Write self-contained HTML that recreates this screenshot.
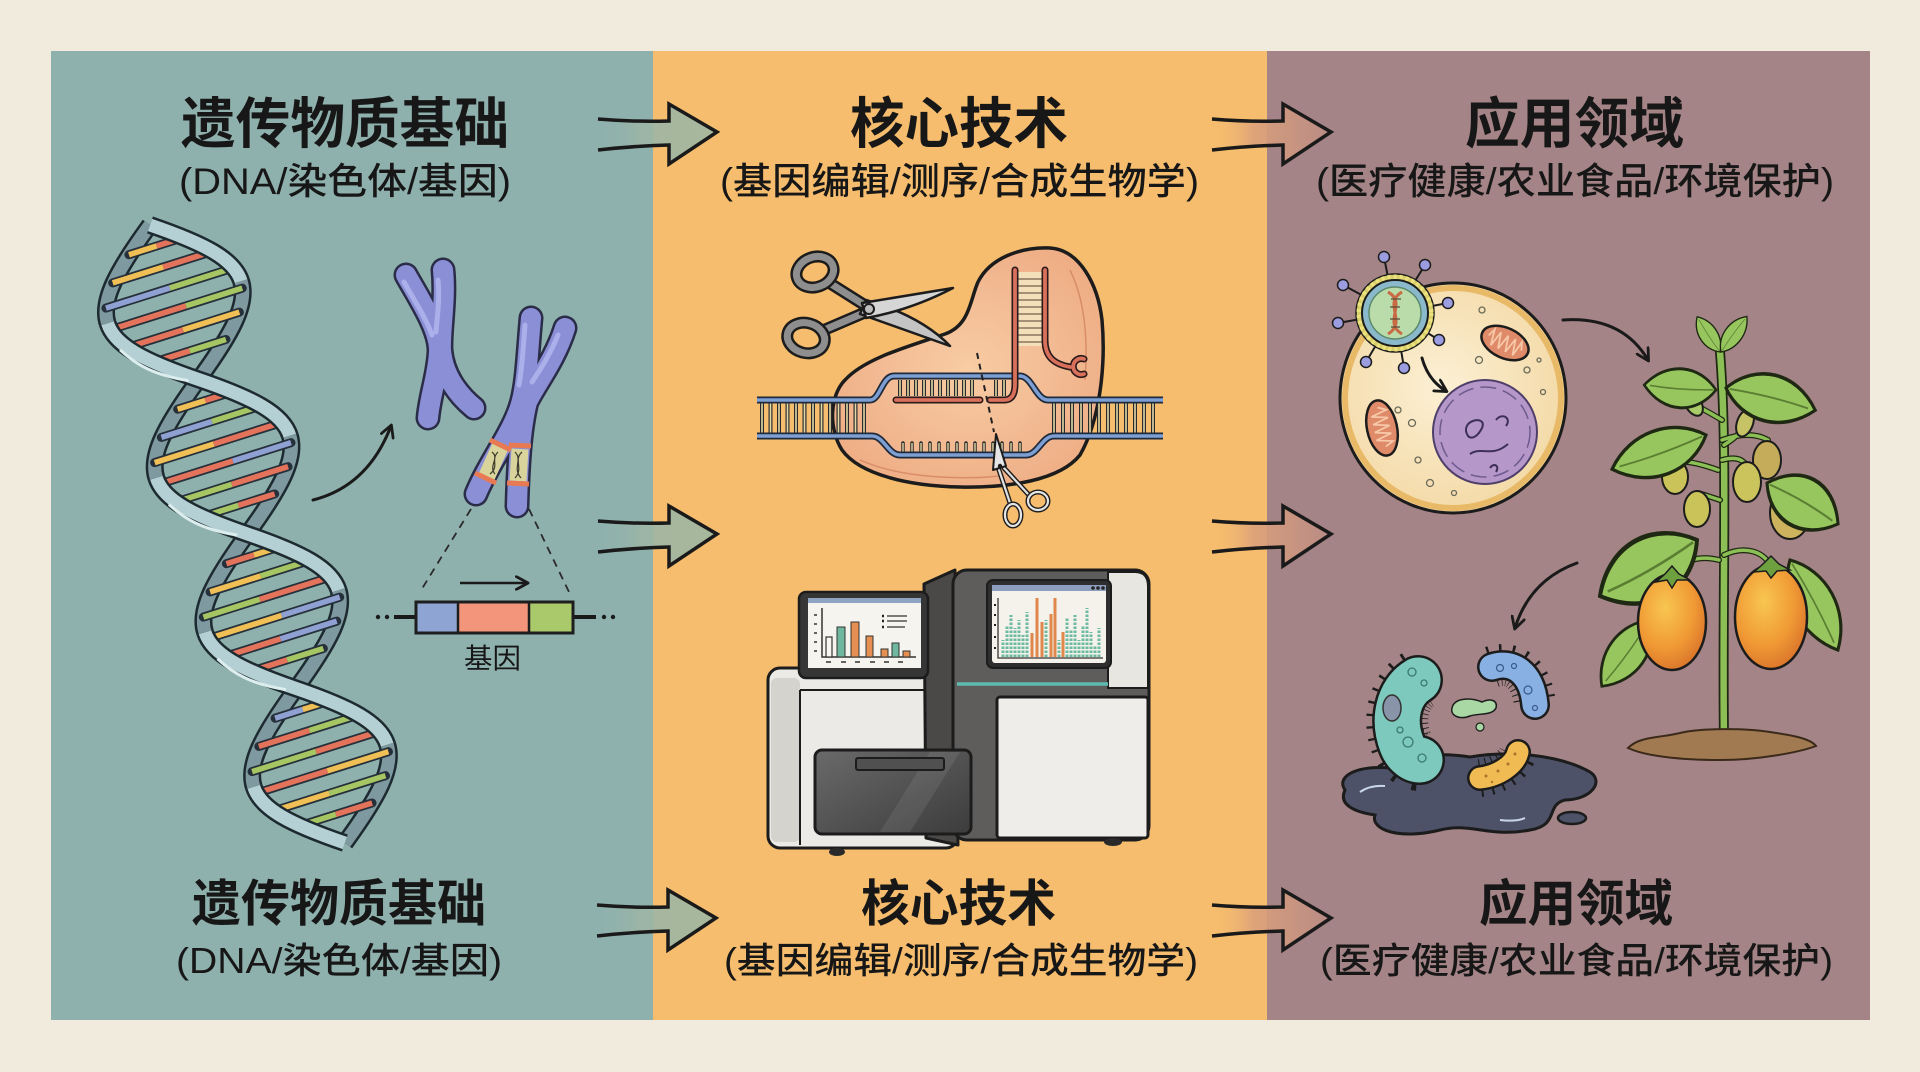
<!DOCTYPE html>
<html lang="zh"><head><meta charset="utf-8"><title>遗传物质基础 - 核心技术 - 应用领域</title>
<style>
html,body{margin:0;padding:0;background:#f1ebdd;width:1920px;height:1072px;overflow:hidden}
svg{display:block}
.t{font-family:"Liberation Sans","Noto Sans CJK SC",sans-serif;fill:#171717}
.rk{stroke:#25303a;stroke-width:9;stroke-linecap:round}
.rc{stroke-width:5.5}
.sbo,.sfo{fill:none;stroke:#1d2a30;stroke-width:18}
.sb{fill:none;stroke:#7f99a0;stroke-width:13}
.sf{fill:none;stroke:#b5d0d4;stroke-width:13}
.sh{fill:none;stroke:#dcedee;stroke-width:3}
.cho{fill:none;stroke:#2a2c48;stroke-width:25;stroke-linecap:round;stroke-linejoin:round}
.ch{fill:none;stroke:#8a8fd6;stroke-width:20;stroke-linecap:round;stroke-linejoin:round}
.chh{fill:none;stroke:#abafea;stroke-width:5;stroke-linecap:round}
.dk{fill:none;stroke:#1c1c1c;stroke-linecap:round;stroke-linejoin:round}
.lr{stroke:#2a2a2a;stroke-width:4}
.lr2{stroke:#e3d9a8;stroke-width:1.6}
.stm{fill:none;stroke:#1e2812;stroke-linecap:round}
.stm2{fill:none;stroke:#8cbf55;stroke-linecap:round}
</style></head><body>
<svg width="1920" height="1072" viewBox="0 0 1920 1072" xmlns="http://www.w3.org/2000/svg">
<defs>
<linearGradient id="ga1" x1="0" y1="0" x2="1" y2="0">
<stop offset="0" stop-color="#8fb1ad" stop-opacity="0"/>
<stop offset="0.35" stop-color="#9cb5a6" stop-opacity="0.9"/>
<stop offset="1" stop-color="#a8b89c"/>
</linearGradient>
<linearGradient id="ga2" x1="0" y1="0" x2="1" y2="0">
<stop offset="0" stop-color="#f6bd6e" stop-opacity="0"/>
<stop offset="0.35" stop-color="#dca07a" stop-opacity="0.9"/>
<stop offset="1" stop-color="#b88b86"/>
</linearGradient>
<radialGradient id="cellg" cx="0.45" cy="0.45" r="0.6"><stop offset="0" stop-color="#fcf0d4"/><stop offset="1" stop-color="#f3d8a4"/></radialGradient>
<radialGradient id="fruitg" cx="0.4" cy="0.35" r="0.7"><stop offset="0" stop-color="#f8c650"/><stop offset="0.6" stop-color="#f09a35"/><stop offset="1" stop-color="#d9722a"/></radialGradient>
<radialGradient id="blobg" cx="0.5" cy="0.5" r="0.6"><stop offset="0" stop-color="#f8cca4"/><stop offset="1" stop-color="#eeac84"/></radialGradient>
<linearGradient id="drawg" x1="0" y1="0" x2="1" y2="1"><stop offset="0" stop-color="#6a6a6a"/><stop offset="1" stop-color="#3c3c3c"/></linearGradient>
<marker id="ah" viewBox="0 0 14 14" refX="11" refY="7" markerWidth="15" markerHeight="15" markerUnits="userSpaceOnUse" orient="auto">
<path d="M1,1 L12,7 L1,13" fill="none" stroke="#1a1a1a" stroke-width="2.6" stroke-linecap="round" stroke-linejoin="round"/>
</marker>
<g id="leaf">
<path d="M0,0 C25,-26 70,-28 100,0 C70,26 25,24 0,0Z" fill="#97c65e" stroke="#1e2812" stroke-width="3"/>
<path d="M4,0 Q50,-3 92,0" fill="none" stroke="#5b7e33" stroke-width="1.6"/>
</g>
</defs>

<rect width="1920" height="1072" fill="#f1ebdd"/>
<rect x="51" y="51" width="602" height="969" fill="#8fb1ad"/>
<rect x="653" y="51" width="614" height="969" fill="#f6bd6e"/>
<rect x="1267" y="51" width="603" height="969" fill="#a48486"/>

<!-- titles -->
<text class="t" x="181" y="143" font-size="55" font-weight="700" textLength="328" lengthAdjust="spacingAndGlyphs">遗传物质基础</text>
<text class="t" x="179" y="194" font-size="37" font-weight="500" textLength="332" lengthAdjust="spacingAndGlyphs">(DNA/染色体/基因)</text>
<text class="t" x="850" y="143" font-size="55" font-weight="700" textLength="218" lengthAdjust="spacingAndGlyphs">核心技术</text>
<text class="t" x="720" y="194" font-size="37" font-weight="500" textLength="479" lengthAdjust="spacingAndGlyphs">(基因编辑/测序/合成生物学)</text>
<text class="t" x="1465" y="143" font-size="55" font-weight="700" textLength="219" lengthAdjust="spacingAndGlyphs">应用领域</text>
<text class="t" x="1316" y="194" font-size="37" font-weight="500" textLength="518" lengthAdjust="spacingAndGlyphs">(医疗健康/农业食品/环境保护)</text>

<text class="t" x="192" y="921" font-size="50" font-weight="700" textLength="294" lengthAdjust="spacingAndGlyphs">遗传物质基础</text>
<text class="t" x="176" y="973" font-size="36" font-weight="500" textLength="326" lengthAdjust="spacingAndGlyphs">(DNA/染色体/基因)</text>
<text class="t" x="861" y="921" font-size="50" font-weight="700" textLength="195" lengthAdjust="spacingAndGlyphs">核心技术</text>
<text class="t" x="724" y="973" font-size="36" font-weight="500" textLength="474" lengthAdjust="spacingAndGlyphs">(基因编辑/测序/合成生物学)</text>
<text class="t" x="1479" y="921" font-size="50" font-weight="700" textLength="194" lengthAdjust="spacingAndGlyphs">应用领域</text>
<text class="t" x="1320" y="973" font-size="36" font-weight="500" textLength="513" lengthAdjust="spacingAndGlyphs">(医疗健康/农业食品/环境保护)</text>

<!-- big arrows -->
<g transform="translate(598,132)"><path d="M0,-13 Q35,-10 71,-11 L71,-28 L119,0 L71,32 L71,13 Q35,14 0,18 Z" fill="url(#ga1)"/><path d="M0,-13 Q35,-10 71,-11 L71,-28 L119,0 L71,32 L71,13 Q35,14 0,18" fill="none" stroke="#1a1a1a" stroke-width="3.5" stroke-linejoin="miter"/></g>
<g transform="translate(598,534)"><path d="M0,-13 Q35,-10 71,-11 L71,-28 L119,0 L71,32 L71,13 Q35,14 0,18 Z" fill="url(#ga1)"/><path d="M0,-13 Q35,-10 71,-11 L71,-28 L119,0 L71,32 L71,13 Q35,14 0,18" fill="none" stroke="#1a1a1a" stroke-width="3.5"/></g>
<g transform="translate(597,918)"><path d="M0,-13 Q35,-10 71,-11 L71,-28 L119,0 L71,32 L71,13 Q35,14 0,18 Z" fill="url(#ga1)"/><path d="M0,-13 Q35,-10 71,-11 L71,-28 L119,0 L71,32 L71,13 Q35,14 0,18" fill="none" stroke="#1a1a1a" stroke-width="3.5"/></g>
<g transform="translate(1212,132)"><path d="M0,-13 Q35,-10 71,-11 L71,-28 L119,0 L71,32 L71,13 Q35,14 0,18 Z" fill="url(#ga2)"/><path d="M0,-13 Q35,-10 71,-11 L71,-28 L119,0 L71,32 L71,13 Q35,14 0,18" fill="none" stroke="#1a1a1a" stroke-width="3.5"/></g>
<g transform="translate(1212,534)"><path d="M0,-13 Q35,-10 71,-11 L71,-28 L119,0 L71,32 L71,13 Q35,14 0,18 Z" fill="url(#ga2)"/><path d="M0,-13 Q35,-10 71,-11 L71,-28 L119,0 L71,32 L71,13 Q35,14 0,18" fill="none" stroke="#1a1a1a" stroke-width="3.5"/></g>
<g transform="translate(1212,918)"><path d="M0,-13 Q35,-10 71,-11 L71,-28 L119,0 L71,32 L71,13 Q35,14 0,18 Z" fill="url(#ga2)"/><path d="M0,-13 Q35,-10 71,-11 L71,-28 L119,0 L71,32 L71,13 Q35,14 0,18" fill="none" stroke="#1a1a1a" stroke-width="3.5"/></g>

<!-- DNA helix -->
<g transform="translate(150,225) rotate(-17.5)">
<g>
<path class="sbo" d="M0,0 C-46.67,34.38 -70,57.69 -70,81"/>
<path class="sbo" d="M70,81 C70,104.31 46.67,127.62 0,162 C-46.67,196.38 -70,219.69 -70,243"/>
<path class="sbo" d="M70,243 C70,266.31 46.67,289.62 0,324 C-46.67,358.38 -70,381.69 -70,405"/>
<path class="sbo" d="M70,405 C70,428.31 46.67,451.62 0,486 C-46.67,520.38 -70,543.69 -70,567"/>
<path class="sbo" d="M70,567 C70,590.31 46.67,613.62 0,648"/>
<path class="sb" d="M0,0 C-46.67,34.38 -70,57.69 -70,81"/>
<path class="sb" d="M70,81 C70,104.31 46.67,127.62 0,162 C-46.67,196.38 -70,219.69 -70,243"/>
<path class="sb" d="M70,243 C70,266.31 46.67,289.62 0,324 C-46.67,358.38 -70,381.69 -70,405"/>
<path class="sb" d="M70,405 C70,428.31 46.67,451.62 0,486 C-46.67,520.38 -70,543.69 -70,567"/>
<path class="sb" d="M70,567 C70,590.31 46.67,613.62 0,648"/>
</g>
<g>
<line x1="-29" y1="22" x2="29" y2="22" class="rk"/><line x1="-29" y1="22" x2="0" y2="22" stroke="#f0bf55" class="rc"/><line x1="0" y1="22" x2="29" y2="22" stroke="#e4735c" class="rc"/>
<line x1="-53" y1="44" x2="53" y2="44" class="rk"/><line x1="-53" y1="44" x2="0" y2="44" stroke="#f0bf55" class="rc"/><line x1="0" y1="44" x2="53" y2="44" stroke="#e4735c" class="rc"/>
<line x1="-67" y1="66" x2="67" y2="66" class="rk"/><line x1="-67" y1="66" x2="0" y2="66" stroke="#8fa0d3" class="rc"/><line x1="0" y1="66" x2="67" y2="66" stroke="#a6c563" class="rc"/>
<line x1="-69" y1="88" x2="69" y2="88" class="rk"/><line x1="-69" y1="88" x2="10" y2="88" stroke="#e4735c" class="rc"/><line x1="10" y1="88" x2="69" y2="88" stroke="#a6c563" class="rc"/>
<line x1="-59" y1="110" x2="59" y2="110" class="rk"/><line x1="-59" y1="110" x2="0" y2="110" stroke="#e4735c" class="rc"/><line x1="0" y1="110" x2="59" y2="110" stroke="#f0bf55" class="rc"/>
<line x1="-38" y1="132" x2="38" y2="132" class="rk"/><line x1="-38" y1="132" x2="0" y2="132" stroke="#e4735c" class="rc"/><line x1="0" y1="132" x2="38" y2="132" stroke="#a6c563" class="rc"/>
<line x1="-29" y1="184" x2="29" y2="184" class="rk"/><line x1="-29" y1="184" x2="0" y2="184" stroke="#f0bf55" class="rc"/><line x1="0" y1="184" x2="29" y2="184" stroke="#e4735c" class="rc"/>
<line x1="-53" y1="206" x2="53" y2="206" class="rk"/><line x1="-53" y1="206" x2="0" y2="206" stroke="#8fa0d3" class="rc"/><line x1="0" y1="206" x2="53" y2="206" stroke="#a6c563" class="rc"/>
<line x1="-67" y1="228" x2="67" y2="228" class="rk"/><line x1="-67" y1="228" x2="-5" y2="228" stroke="#f0bf55" class="rc"/><line x1="-5" y1="228" x2="67" y2="228" stroke="#e4735c" class="rc"/>
<line x1="-69" y1="250" x2="69" y2="250" class="rk"/><line x1="-69" y1="250" x2="8" y2="250" stroke="#e4735c" class="rc"/><line x1="8" y1="250" x2="69" y2="250" stroke="#8fa0d3" class="rc"/>
<line x1="-59" y1="272" x2="59" y2="272" class="rk"/><line x1="-59" y1="272" x2="0" y2="272" stroke="#a6c563" class="rc"/><line x1="0" y1="272" x2="59" y2="272" stroke="#e4735c" class="rc"/>
<line x1="-38" y1="294" x2="38" y2="294" class="rk"/><line x1="-38" y1="294" x2="0" y2="294" stroke="#a6c563" class="rc"/><line x1="0" y1="294" x2="38" y2="294" stroke="#e4735c" class="rc"/>
<line x1="-29" y1="346" x2="29" y2="346" class="rk"/><line x1="-29" y1="346" x2="0" y2="346" stroke="#e4735c" class="rc"/><line x1="0" y1="346" x2="29" y2="346" stroke="#f0bf55" class="rc"/>
<line x1="-53" y1="368" x2="53" y2="368" class="rk"/><line x1="-53" y1="368" x2="0" y2="368" stroke="#f0bf55" class="rc"/><line x1="0" y1="368" x2="53" y2="368" stroke="#a6c563" class="rc"/>
<line x1="-67" y1="390" x2="67" y2="390" class="rk"/><line x1="-67" y1="390" x2="-8" y2="390" stroke="#a6c563" class="rc"/><line x1="-8" y1="390" x2="67" y2="390" stroke="#e4735c" class="rc"/>
<line x1="-69" y1="412" x2="69" y2="412" class="rk"/><line x1="-69" y1="412" x2="8" y2="412" stroke="#f0bf55" class="rc"/><line x1="8" y1="412" x2="69" y2="412" stroke="#8fa0d3" class="rc"/>
<line x1="-59" y1="434" x2="59" y2="434" class="rk"/><line x1="-59" y1="434" x2="0" y2="434" stroke="#e4735c" class="rc"/><line x1="0" y1="434" x2="59" y2="434" stroke="#8fa0d3" class="rc"/>
<line x1="-38" y1="456" x2="38" y2="456" class="rk"/><line x1="-38" y1="456" x2="0" y2="456" stroke="#e4735c" class="rc"/><line x1="0" y1="456" x2="38" y2="456" stroke="#a6c563" class="rc"/>
<line x1="-29" y1="508" x2="29" y2="508" class="rk"/><line x1="-29" y1="508" x2="0" y2="508" stroke="#8fa0d3" class="rc"/><line x1="0" y1="508" x2="29" y2="508" stroke="#f0bf55" class="rc"/>
<line x1="-53" y1="530" x2="53" y2="530" class="rk"/><line x1="-53" y1="530" x2="0" y2="530" stroke="#e4735c" class="rc"/><line x1="0" y1="530" x2="53" y2="530" stroke="#a6c563" class="rc"/>
<line x1="-67" y1="552" x2="67" y2="552" class="rk"/><line x1="-67" y1="552" x2="0" y2="552" stroke="#a6c563" class="rc"/><line x1="0" y1="552" x2="67" y2="552" stroke="#e4735c" class="rc"/>
<line x1="-69" y1="574" x2="69" y2="574" class="rk"/><line x1="-69" y1="574" x2="5" y2="574" stroke="#e4735c" class="rc"/><line x1="5" y1="574" x2="69" y2="574" stroke="#f0bf55" class="rc"/>
<line x1="-59" y1="596" x2="59" y2="596" class="rk"/><line x1="-59" y1="596" x2="0" y2="596" stroke="#f0bf55" class="rc"/><line x1="0" y1="596" x2="59" y2="596" stroke="#a6c563" class="rc"/>
<line x1="-38" y1="618" x2="38" y2="618" class="rk"/><line x1="-38" y1="618" x2="0" y2="618" stroke="#a6c563" class="rc"/><line x1="0" y1="618" x2="38" y2="618" stroke="#e4735c" class="rc"/>
</g>
<g>
<path class="sfo" d="M0,0 C46.67,34.38 70,57.69 70,81"/>
<path class="sfo" d="M-70,81 C-70,104.31 -46.67,127.62 0,162 C46.67,196.38 70,219.69 70,243"/>
<path class="sfo" d="M-70,243 C-70,266.31 -46.67,289.62 0,324 C46.67,358.38 70,381.69 70,405"/>
<path class="sfo" d="M-70,405 C-70,428.31 -46.67,451.62 0,486 C46.67,520.38 70,543.69 70,567"/>
<path class="sfo" d="M-70,567 C-70,590.31 -46.67,613.62 0,648"/>
<path class="sf" d="M0,0 C46.67,34.38 70,57.69 70,81"/>
<path class="sf" d="M-70,81 C-70,104.31 -46.67,127.62 0,162 C46.67,196.38 70,219.69 70,243"/>
<path class="sf" d="M-70,243 C-70,266.31 -46.67,289.62 0,324 C46.67,358.38 70,381.69 70,405"/>
<path class="sf" d="M-70,405 C-70,428.31 -46.67,451.62 0,486 C46.67,520.38 70,543.69 70,567"/>
<path class="sf" d="M-70,567 C-70,590.31 -46.67,613.62 0,648"/>
<path class="sh" d="M-66,110 C-55,130 -40,145 -10,160"/>
<path class="sh" d="M-66,272 C-55,292 -40,307 -10,322"/>
<path class="sh" d="M-66,434 C-55,454 -40,469 -10,484"/>
</g>
</g>

<!-- curved arrow DNA -> chromosome -->
<path d="M313,500 Q368,486 391,426" fill="none" stroke="#1a1a1a" stroke-width="3" stroke-linecap="round" marker-end="url(#ah)"/>

<!-- chromosome 1 -->
<path class="cho" d="M406,275 C420,300 440,330 439,352 C438,375 430,395 428,418"/>
<path class="cho" d="M443,270 C446,300 440,330 441,350 C443,375 458,395 474,408"/>
<path class="ch" d="M406,275 C420,300 440,330 439,352 C438,375 430,395 428,418"/>
<path class="ch" d="M443,270 C446,300 440,330 441,350 C443,375 458,395 474,408"/>
<path class="chh" d="M404,282 C414,300 426,318 432,335"/>
<path class="chh" d="M438,280 C440,300 437,318 436,332"/>
<!-- chromosome 2 -->
<path class="cho" d="M531,318 C528,350 527,380 522,400 C515,430 490,460 476,494"/>
<path class="cho" d="M565,328 C555,360 535,385 527,402 C520,430 518,470 517,506"/>
<path class="ch" d="M531,318 C528,350 527,380 522,400 C515,430 490,460 476,494"/>
<path class="ch" d="M565,328 C555,360 535,385 527,402 C520,430 518,470 517,506"/>
<path class="chh" d="M525,325 C523,350 522,370 519,385"/>
<path class="chh" d="M558,335 C550,355 540,370 532,382"/>
<path d="M500,447 L486,478" stroke="#d8d49c" stroke-width="17"/>
<path d="M520,449 L518,481" stroke="#d8d49c" stroke-width="17"/>
<path d="M490,440 L511,450 M475,473 L496,483 M509,445 L531,446 M507,483 L529,484" stroke="#e77a52" stroke-width="5"/>
<path d="M492,452 C500,458 488,466 495,474 M498,452 C490,460 500,466 490,474 M515,452 C523,460 512,468 521,478 M522,452 C513,460 524,468 515,478" fill="none" stroke="#3a3a2a" stroke-width="1.2"/>

<!-- dashed zoom lines -->
<path d="M471,509 L420,592 M529,509 L569,592" stroke="#2a2a2a" stroke-width="1.8" stroke-dasharray="8 6" fill="none"/>
<!-- gene bar -->
<line x1="460" y1="583" x2="527" y2="583" stroke="#1a1a1a" stroke-width="2.5" marker-end="url(#ah)"/>
<line x1="394" y1="617" x2="416" y2="617" stroke="#1a1a1a" stroke-width="4"/>
<line x1="573" y1="617" x2="596" y2="617" stroke="#1a1a1a" stroke-width="4"/>
<circle cx="378" cy="617" r="2.2" fill="#1a1a1a"/><circle cx="387" cy="617" r="2.2" fill="#1a1a1a"/>
<circle cx="604" cy="617" r="2.2" fill="#1a1a1a"/><circle cx="613" cy="617" r="2.2" fill="#1a1a1a"/>
<rect x="416" y="602" width="42" height="31" fill="#8ea5d4"/>
<rect x="458" y="602" width="71" height="31" fill="#f2957a"/>
<rect x="529" y="602" width="44" height="31" fill="#a9c96a"/>
<rect x="416" y="602" width="157" height="31" fill="none" stroke="#1e1e1e" stroke-width="3"/>
<line x1="458" y1="602" x2="458" y2="633" stroke="#1e1e1e" stroke-width="2.5"/>
<line x1="529" y1="602" x2="529" y2="633" stroke="#1e1e1e" stroke-width="2.5"/>
<text class="t" x="464" y="668" font-size="28" textLength="57" lengthAdjust="spacingAndGlyphs">基因</text>

<!-- ===== Middle: CRISPR ===== -->
<path d="M1050,248 C1080,250 1098,285 1102,320 C1106,365 1100,420 1080,455 C1060,480 1010,488 960,487 C910,486 860,475 842,450 C828,428 830,395 845,380 C865,358 910,346 945,334 C970,325 970,300 978,282 C990,258 1020,247 1050,248 Z" fill="url(#blobg)" stroke="#1c1c1c" stroke-width="3.5"/>
<path d="M1070,270 C1085,300 1088,340 1085,380 M860,460 C900,478 960,480 1000,476" fill="none" stroke="#d88d68" stroke-width="1.5"/>
<!-- ladder rungs -->
<g>
<path class="lr" d="M762,403V433M770.5,403V433M779,403V433M787.5,403V433M796,403V433M804.5,403V433M813,403V433M821.5,403V433M830,403V433M838.5,403V433M847,403V433M855.5,403V433M864,403V433"/>
<path class="lr2" d="M762,403V433M770.5,403V433M779,403V433M787.5,403V433M796,403V433M804.5,403V433M813,403V433M821.5,403V433M830,403V433M838.5,403V433M847,403V433M855.5,403V433M864,403V433"/>
<path class="lr" d="M1054,403V433M1063,403V433M1072,403V433M1081,403V433M1090,403V433M1099,403V433M1108,403V433M1117,403V433M1126,403V433M1135,403V433M1144,403V433M1153,403V433"/>
<path class="lr2" d="M1054,403V433M1063,403V433M1072,403V433M1081,403V433M1090,403V433M1099,403V433M1108,403V433M1117,403V433M1126,403V433M1135,403V433M1144,403V433M1153,403V433"/>
<path class="lr" d="M900,380V396M908,380V396M916,380V396M924,380V396M932,380V396M940,380V396M948,380V396M956,380V396M964,380V396M972,380V396M996,380V396M1004,380V396"/>
<path class="lr2" d="M900,380V396M908,380V396M916,380V396M924,380V396M932,380V396M940,380V396M948,380V396M956,380V396M964,380V396M972,380V396M996,380V396M1004,380V396"/>
<path d="M903,452V443M912,452V443M921,452V443M930,452V443M939,452V443M948,452V443M957,452V443M966,452V443M975,452V443M984,452V443M993,452V443M1002,452V443M1011,452V443M1020,452V443" stroke="#2a2a2a" stroke-width="3.5" stroke-linecap="round"/>
<path d="M903,452V443M912,452V443M921,452V443M930,452V443M939,452V443M948,452V443M957,452V443M966,452V443M975,452V443M984,452V443M993,452V443M1002,452V443M1011,452V443M1020,452V443" stroke="#e3d9a8" stroke-width="1.4"/>
</g>
<!-- DNA strands -->
<path d="M757,400 L870,400 C880,400 882,376 894,376 L1020,376 C1032,376 1036,400 1048,400 L1163,400" fill="none" stroke="#1f2a3a" stroke-width="7"/>
<path d="M757,400 L870,400 C880,400 882,376 894,376 L1020,376 C1032,376 1036,400 1048,400 L1163,400" fill="none" stroke="#7d9fd3" stroke-width="3.5"/>
<path d="M757,436 L872,436 C884,436 888,455 900,455 L1026,455 C1038,455 1042,436 1054,436 L1163,436" fill="none" stroke="#1f2a3a" stroke-width="7"/>
<path d="M757,436 L872,436 C884,436 888,455 900,455 L1026,455 C1038,455 1042,436 1054,436 L1163,436" fill="none" stroke="#7d9fd3" stroke-width="3.5"/>
<!-- guide RNA -->
<rect x="1018" y="272" width="24" height="74" fill="#f3e0ba"/>
<path d="M1018,279H1042M1018,286H1042M1018,293H1042M1018,300H1042M1018,307H1042M1018,314H1042M1018,321H1042M1018,328H1042M1018,335H1042M1018,342H1042" stroke="#5a4030" stroke-width="1"/>
<path d="M896,400 L980,400 M990,400 L1004,400 C1012,400 1015,394 1015,384 L1015,270 M1045,270 L1045,340 C1045,356 1053,364 1070,367 M1084,359 A8,8 0 1,0 1084,374" fill="none" stroke="#2a1a1a" stroke-width="7" stroke-linecap="round"/>
<path d="M896,400 L980,400 M990,400 L1004,400 C1012,400 1015,394 1015,384 L1015,270 M1045,270 L1045,340 C1045,356 1053,364 1070,367 M1084,359 A8,8 0 1,0 1084,374" fill="none" stroke="#d8705c" stroke-width="3.8" stroke-linecap="round"/>
<path d="M977,353 L994,432" stroke="#222" stroke-width="2" stroke-dasharray="6 5"/>
<!-- big scissors -->
<path d="M828,282 L866,306 M824,330 L866,312" class="dk" stroke-width="12"/>
<path d="M828,282 L866,306 M824,330 L866,312" fill="none" stroke="#8e8e8e" stroke-width="7" stroke-linecap="round"/>
<ellipse cx="815" cy="272" rx="19" ry="15" transform="rotate(-20 815 272)" fill="none" stroke="#1c1c1c" stroke-width="12"/>
<ellipse cx="815" cy="272" rx="19" ry="15" transform="rotate(-20 815 272)" fill="none" stroke="#8e8e8e" stroke-width="7"/>
<ellipse cx="806" cy="338" rx="19" ry="15" transform="rotate(15 806 338)" fill="none" stroke="#1c1c1c" stroke-width="12"/>
<ellipse cx="806" cy="338" rx="19" ry="15" transform="rotate(15 806 338)" fill="none" stroke="#8e8e8e" stroke-width="7"/>
<path d="M866,300 C900,310 930,325 950,346 L860,314 Z" fill="#c4c4c4" stroke="#1c1c1c" stroke-width="2.5" stroke-linejoin="round"/>
<path d="M862,303 L953,288 C930,300 900,312 866,318 Z" fill="#d6d6d6" stroke="#1c1c1c" stroke-width="2.5" stroke-linejoin="round"/>
<circle cx="869" cy="309" r="5" fill="#bdbdbd" stroke="#1c1c1c" stroke-width="2"/>
<!-- small scissors -->
<path d="M999,470 L1010,503 M1004,468 L1028,494" stroke="#1c1c1c" stroke-width="5" stroke-linecap="round"/>
<path d="M999,470 L1010,503 M1004,468 L1028,494" stroke="#e0e0e0" stroke-width="2.2" stroke-linecap="round"/>
<ellipse cx="1013" cy="515" rx="8" ry="11" fill="none" stroke="#1c1c1c" stroke-width="5"/>
<ellipse cx="1013" cy="515" rx="8" ry="11" fill="none" stroke="#e6e6e6" stroke-width="2.2"/>
<ellipse cx="1038" cy="501" rx="10" ry="9" fill="none" stroke="#1c1c1c" stroke-width="5"/>
<ellipse cx="1038" cy="501" rx="10" ry="9" fill="none" stroke="#e6e6e6" stroke-width="2.2"/>
<path d="M993,470 L996,434 L1006,466 Z" fill="#e5e5e5" stroke="#1c1c1c" stroke-width="2" stroke-linejoin="round"/>
<circle cx="1000" cy="466" r="2.2" fill="#1c1c1c"/>

<!-- sequencer -->
<rect x="768" y="668" width="190" height="180" rx="12" fill="#eceae6" stroke="#1c1c1c" stroke-width="3"/>
<rect x="771" y="678" width="29" height="164" rx="6" fill="#d5d3ce"/>
<path d="M800,690 L800,845 M800,690 L955,690" stroke="#1c1c1c" stroke-width="2" fill="none"/>
<polygon points="924,584 955,570 958,845 926,838" fill="#4a4947" stroke="#1c1c1c" stroke-width="3" stroke-linejoin="round"/>
<rect x="953" y="570" width="196" height="270" rx="14" fill="#5e5d5b" stroke="#1c1c1c" stroke-width="3"/>
<path d="M1108,572 L1135,572 Q1148,572 1148,586 L1148,688 L1108,688 Z" fill="#e8e6e1" stroke="#1c1c1c" stroke-width="2"/>
<rect x="997" y="697" width="151" height="141" rx="3" fill="#efede9" stroke="#1c1c1c" stroke-width="3"/>
<line x1="957" y1="684" x2="1108" y2="684" stroke="#5fbab0" stroke-width="3.5"/>
<rect x="987" y="580" width="124" height="88" rx="6" fill="#2e2e2e" stroke="#1c1c1c" stroke-width="2"/>
<rect x="992" y="585" width="114" height="78" rx="3" fill="#f4f2ea"/>
<rect x="992" y="585" width="114" height="6" fill="#8d9dbd"/>
<circle cx="1093" cy="588" r="1.8" fill="#222"/><circle cx="1098" cy="588" r="1.8" fill="#222"/><circle cx="1103" cy="588" r="1.8" fill="#222"/>
<path d="M998,598 V658 H1103" fill="none" stroke="#333" stroke-width="1.3"/>
<path d="M994,605h2M994,615h2M994,625h2M994,637h2M994,648h2" stroke="#222" stroke-width="2"/>
<g stroke="#6db9a3" stroke-width="3" stroke-dasharray="2.5 1.5">
<path d="M1003,657V640M1007,657V625M1011,657V615M1015,657V628M1019,657V620M1023,657V635M1027,657V612M1046,657V620M1059,657V640M1067,657V618M1071,657V630M1075,657V615M1079,657V640M1083,657V625M1087,657V608M1091,657V632M1095,657V645M1099,657V628"/>
</g>
<g stroke="#e0874c" stroke-width="3">
<path d="M1032,657V633M1037,657V598M1042,657V622M1051,657V614M1055,657V598M1063,657V632"/>
</g>
<!-- tablet -->
<rect x="799" y="592" width="129" height="86" rx="7" fill="#363636" stroke="#1c1c1c" stroke-width="2.5"/>
<rect x="808" y="598" width="113" height="70" fill="#f6f4ee"/>
<rect x="808" y="598" width="113" height="5" fill="#8fa3c2"/>
<path d="M822,608 V657 H916" fill="none" stroke="#333" stroke-width="1.5"/>
<path d="M814,615h3M814,624h3M814,633h3M814,642h3M814,651h3M826,662h5M841,662h5M855,662h5M870,662h5M884,662h5M898,662h5" stroke="#333" stroke-width="1.6"/>
<rect x="826" y="637" width="6" height="20" fill="#f8f6f0" stroke="#333" stroke-width="1.2"/>
<rect x="837" y="627" width="8" height="30" fill="#6fb79f" stroke="#333" stroke-width="1"/>
<rect x="851" y="622" width="8" height="35" fill="#e58f52" stroke="#333" stroke-width="1"/>
<rect x="866" y="636" width="7" height="21" fill="#e58f52" stroke="#333" stroke-width="1"/>
<rect x="881" y="649" width="7" height="8" fill="#e58f52" stroke="#333" stroke-width="1"/>
<rect x="892" y="643" width="7" height="14" fill="#6fb79f" stroke="#333" stroke-width="1"/>
<rect x="903" y="651" width="7" height="6" fill="#e58f52" stroke="#333" stroke-width="1"/>
<path d="M882,616h2M882,621h2M882,627h2" stroke="#222" stroke-width="2.4"/>
<path d="M887,616h20M887,621h20M887,627h18" stroke="#333" stroke-width="1.2"/>
<!-- drawer -->
<rect x="815" y="750" width="156" height="84" rx="7" fill="url(#drawg)" stroke="#1c1c1c" stroke-width="3"/>
<polygon points="880,832 930,752 960,752 910,832" fill="#ffffff" opacity="0.08"/>
<rect x="856" y="758" width="88" height="12" rx="2" fill="#505050" stroke="#1c1c1c" stroke-width="2"/>
<ellipse cx="837" cy="852" rx="8" ry="4" fill="#2a2a2a"/>
<ellipse cx="1113" cy="842" rx="9" ry="4" fill="#2a2a2a"/>

<!-- ===== Right panel ===== -->
<!-- cell -->
<ellipse cx="1453" cy="398" rx="113" ry="115" fill="url(#cellg)" stroke="#1c1c1c" stroke-width="3"/>
<ellipse cx="1453" cy="398" rx="108" ry="110" fill="none" stroke="#e8b967" stroke-width="6"/>
<g fill="none" stroke="#6a6a5a" stroke-width="1.3">
<circle cx="1482" cy="310" r="3"/><circle cx="1479" cy="360" r="3.5"/><circle cx="1527" cy="370" r="3"/><circle cx="1543" cy="392" r="2.5"/><circle cx="1398" cy="410" r="3"/><circle cx="1412" cy="423" r="3.5"/><circle cx="1418" cy="460" r="3"/><circle cx="1430" cy="483" r="3.5"/><circle cx="1454" cy="493" r="2.5"/><circle cx="1539" cy="360" r="2"/>
</g>
<circle cx="1485" cy="432" r="52" fill="#b597c9" stroke="#4e3f6a" stroke-width="2"/>
<circle cx="1485" cy="432" r="45" fill="none" stroke="#6e5a8e" stroke-width="1.5" stroke-dasharray="16 7"/>
<path d="M1468,436 C1458,420 1488,414 1482,428 C1478,436 1472,440 1468,436 Z M1470,454 C1482,446 1492,458 1508,444 M1496,420 C1502,412 1512,418 1506,426 M1490,468 C1494,462 1500,466 1496,472" fill="none" stroke="#3e3058" stroke-width="2"/>
<g transform="translate(1505,343) rotate(25)">
<ellipse rx="25" ry="15" fill="#df8a68" stroke="#1c1c1c" stroke-width="2.5"/>
<path d="M-18,0 L-15,-8 L-12,8 L-8,-8 L-4,8 L0,-8 L4,8 L8,-8 L12,8 L15,-8 L18,0" fill="none" stroke="#f6c8a8" stroke-width="1.8"/>
</g>
<g transform="translate(1382,428) rotate(78)">
<ellipse rx="28" ry="15" fill="#df8a68" stroke="#1c1c1c" stroke-width="2.5"/>
<path d="M-21,0 L-17,-8 L-13,8 L-9,-8 L-5,8 L-1,-8 L3,8 L7,-8 L11,8 L15,-8 L19,0" fill="none" stroke="#f6c8a8" stroke-width="1.8"/>
</g>
<!-- virus -->
<g>
<path d="M1395,313 L1384,257 M1395,313 L1425,265 M1395,313 L1343,285 M1395,313 L1448,303 M1395,313 L1338,323 M1395,313 L1439,340 M1395,313 L1366,362 M1395,313 L1404,368" stroke="#1c1c1c" stroke-width="2"/>
<g fill="#9c9de0" stroke="#1c1c1c" stroke-width="1.5">
<circle cx="1384" cy="257" r="5.5"/><circle cx="1425" cy="265" r="5.5"/><circle cx="1343" cy="285" r="5.5"/><circle cx="1448" cy="303" r="5.5"/><circle cx="1338" cy="323" r="5.5"/><circle cx="1439" cy="340" r="5.5"/><circle cx="1366" cy="362" r="5.5"/><circle cx="1404" cy="368" r="5.5"/>
</g>
<circle cx="1395" cy="313" r="39" fill="#d8d06a" stroke="#1c1c1c" stroke-width="1.5"/>
<circle cx="1395" cy="313" r="36" fill="none" stroke="#eee27e" stroke-width="5" stroke-dasharray="3 3"/>
<circle cx="1395" cy="313" r="33" fill="#8ab9cc" stroke="#1c1c1c" stroke-width="2"/>
<circle cx="1395" cy="313" r="26" fill="#b9dcaa" stroke="#5d8a6a" stroke-width="1.5"/>
<path d="M1388,292 C1408,303 1382,322 1402,334 M1402,292 C1382,303 1408,322 1388,334" fill="none" stroke="#c96a45" stroke-width="3"/>
<path d="M1391,299h10M1390,307h10M1390,319h10M1391,327h9" stroke="#5a4a3a" stroke-width="1.2"/>
</g>
<!-- arrows right panel -->
<path d="M1422,358 Q1428,380 1446,391" fill="none" stroke="#1a1a1a" stroke-width="3" stroke-linecap="round" marker-end="url(#ah)"/>
<path d="M1563,320 Q1622,316 1648,360" fill="none" stroke="#1a1a1a" stroke-width="3" stroke-linecap="round" marker-end="url(#ah)"/>
<path d="M1577,563 Q1530,580 1515,628" fill="none" stroke="#1a1a1a" stroke-width="3" stroke-linecap="round" marker-end="url(#ah)"/>

<!-- plant -->
<path class="stm" d="M1724,740 C1722,600 1728,450 1720,352" stroke-width="10"/>
<path class="stm2" d="M1724,740 C1722,600 1728,450 1720,352" stroke-width="6.5"/>
<path class="stm" d="M1719,560 C1700,555 1680,560 1672,576 M1724,555 C1745,545 1765,552 1770,566 M1718,470 Q1690,460 1676,462 M1720,500 Q1705,495 1698,493 M1722,460 Q1740,455 1746,465 M1722,440 Q1750,430 1768,440 M1722,420 Q1705,410 1695,405 M1724,445 Q1740,435 1742,428" stroke-width="6"/>
<path class="stm2" d="M1719,560 C1700,555 1680,560 1672,576 M1724,555 C1745,545 1765,552 1770,566 M1718,470 Q1690,460 1676,462 M1720,500 Q1705,495 1698,493 M1722,460 Q1740,455 1746,465 M1722,440 Q1750,430 1768,440 M1722,420 Q1705,410 1695,405 M1724,445 Q1740,435 1742,428" stroke-width="3.5"/>
<ellipse cx="1790" cy="513" rx="20" ry="26" fill="#cdb35e" stroke="#1c1c1c" stroke-width="2"/>
<ellipse cx="1767" cy="460" rx="14" ry="19" fill="#c4ac5a" stroke="#1c1c1c" stroke-width="2"/>
<ellipse cx="1675" cy="477" rx="13" ry="17" fill="#c9c35a" stroke="#1c1c1c" stroke-width="2"/>
<ellipse cx="1697" cy="509" rx="13" ry="18" fill="#c9c35a" stroke="#1c1c1c" stroke-width="2"/>
<ellipse cx="1747" cy="482" rx="14" ry="20" fill="#cbc45c" stroke="#1c1c1c" stroke-width="2"/>
<ellipse cx="1693" cy="403" rx="8" ry="14" transform="rotate(-30 1693 403)" fill="#a9cb68" stroke="#1c1c1c" stroke-width="2"/>
<ellipse cx="1745" cy="423" rx="8" ry="14" transform="rotate(20 1745 423)" fill="#c6c266" stroke="#1c1c1c" stroke-width="2"/>
<use href="#leaf" transform="translate(1720,352) rotate(-123) scale(0.42,0.46)"/>
<use href="#leaf" transform="translate(1721,352) rotate(-54) scale(0.44,0.46)"/>
<use href="#leaf" transform="translate(1716,390) rotate(-176) scale(0.72,1.0)"/>
<use href="#leaf" transform="translate(1726,388) rotate(14) scale(0.92,1.2)"/>
<use href="#leaf" transform="translate(1706,435) rotate(160) scale(1.0,1.15)"/>
<use href="#leaf" transform="translate(1767,483) rotate(30) scale(0.82,1.3)"/>
<use href="#leaf" transform="translate(1697,540) rotate(150) scale(1.12,1.6)"/>
<use href="#leaf" transform="translate(1790,560) rotate(62) scale(1.02,1.05)"/>
<use href="#leaf" transform="translate(1650,620) rotate(126) scale(0.82,0.95)"/>
<ellipse cx="1672" cy="622" rx="34" ry="48" fill="url(#fruitg)" stroke="#1c1c1c" stroke-width="2.5"/>
<ellipse cx="1771" cy="617" rx="36" ry="52" fill="url(#fruitg)" stroke="#1c1c1c" stroke-width="2.5"/>
<path d="M1656,582 L1665,574 L1672,566 L1679,574 L1690,580 L1677,580 L1672,588 L1667,580 Z" fill="#6fa040" stroke="#1c1c1c" stroke-width="1.5"/>
<path d="M1754,572 L1763,564 L1771,556 L1779,564 L1790,570 L1777,571 L1771,578 L1766,571 Z" fill="#6fa040" stroke="#1c1c1c" stroke-width="1.5"/>
<path d="M1628,748 C1640,736 1660,738 1680,733 C1700,728 1745,728 1770,732 C1790,735 1810,738 1816,746 C1800,752 1760,760 1720,760 C1680,760 1645,756 1628,748 Z" fill="#a17a52" stroke="#3b2a1a" stroke-width="2"/>

<!-- bacteria -->
<path d="M1345,790 C1335,775 1360,765 1390,768 C1410,755 1440,752 1470,757 C1510,750 1560,755 1590,772 C1605,782 1590,800 1565,800 C1545,805 1560,825 1530,830 C1490,838 1470,822 1440,830 C1400,840 1370,830 1375,815 C1355,812 1338,805 1345,790 Z" fill="#4e5268" stroke="#1c1c1c" stroke-width="3"/>
<ellipse cx="1572" cy="818" rx="14" ry="6" fill="#4e5268" stroke="#1c1c1c" stroke-width="2.5"/>
<path d="M1360,792 Q1370,785 1385,786 M1500,820 Q1515,822 1525,818" fill="none" stroke="#c9d6ea" stroke-width="2"/>
<!-- teal -->
<path d="M1418,680 C1398,692 1392,720 1402,745 C1406,755 1414,760 1420,760" fill="none" stroke="#1c1c1c" stroke-width="62" stroke-dasharray="1.6 7"/>
<path d="M1418,680 C1398,692 1392,720 1402,745 C1406,755 1414,760 1420,760" fill="none" stroke="#1c1c1c" stroke-width="50" stroke-linecap="round"/>
<path d="M1418,680 C1398,692 1392,720 1402,745 C1406,755 1414,760 1420,760" fill="none" stroke="#7ec9bd" stroke-width="45" stroke-linecap="round"/>
<ellipse cx="1392" cy="708" rx="9" ry="13" fill="#8a94a8" stroke="#333" stroke-width="1.5"/>
<g fill="none" stroke="#3b7a70" stroke-width="1.3"><circle cx="1412" cy="672" r="4"/><circle cx="1424" cy="683" r="3"/><circle cx="1408" cy="742" r="5"/><circle cx="1422" cy="758" r="4"/><circle cx="1400" cy="730" r="3"/></g>
<!-- blue -->
<path d="M1492,667 C1512,660 1532,672 1535,705" fill="none" stroke="#1c1c1c" stroke-width="42" stroke-dasharray="1.6 7"/>
<path d="M1492,667 C1512,660 1532,672 1535,705" fill="none" stroke="#1c1c1c" stroke-width="30" stroke-linecap="round"/>
<path d="M1492,667 C1512,660 1532,672 1535,705" fill="none" stroke="#88b0e2" stroke-width="25" stroke-linecap="round"/>
<g fill="none" stroke="#3a5a8a" stroke-width="1.2"><circle cx="1500" cy="668" r="3.5"/><circle cx="1514" cy="666" r="2.5"/><circle cx="1528" cy="690" r="4"/><circle cx="1535" cy="708" r="2.5"/></g>
<!-- green blob -->
<path d="M1452,708 C1454,698 1470,697 1482,702 C1490,698 1498,700 1496,708 C1492,716 1478,713 1470,716 C1460,720 1450,716 1452,708 Z" fill="#a9d8a4" stroke="#1c1c1c" stroke-width="1.5"/>
<circle cx="1480" cy="727" r="4" fill="#a9d8a4" stroke="#1c1c1c" stroke-width="1.2"/>
<!-- orange -->
<path d="M1480,778 C1498,776 1515,765 1518,752" fill="none" stroke="#1c1c1c" stroke-width="38" stroke-dasharray="1.6 7"/>
<path d="M1480,778 C1498,776 1515,765 1518,752" fill="none" stroke="#1c1c1c" stroke-width="26" stroke-linecap="round"/>
<path d="M1480,778 C1498,776 1515,765 1518,752" fill="none" stroke="#f0bb52" stroke-width="21" stroke-linecap="round"/>
<g fill="#a7742a"><circle cx="1486" cy="776" r="1.5"/><circle cx="1498" cy="771" r="1.5"/><circle cx="1508" cy="764" r="1.5"/><circle cx="1515" cy="754" r="1.5"/><circle cx="1492" cy="782" r="1.2"/></g>
</svg>
</body></html>
